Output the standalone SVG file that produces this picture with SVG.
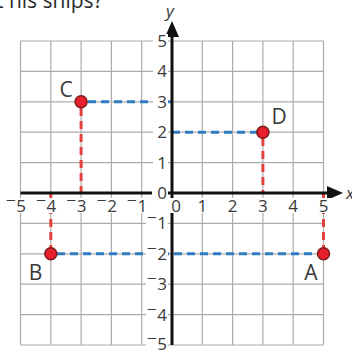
<svg xmlns="http://www.w3.org/2000/svg" width="352" height="353" viewBox="0 0 352 353">
<style>
.grid line{stroke:#ababab;stroke-width:1.2}
.axis{stroke:#111;stroke-width:3}
.bd{stroke:#2f7cc2;stroke-width:3;stroke-dasharray:8 5;fill:none}
.rd{stroke:#e2413f;stroke-width:3;stroke-dasharray:8 5;fill:none}
.tk{font-family:"Open Sans","DejaVu Sans",sans-serif;font-size:17px;fill:#3a3a3a}
.m{font-family:"DejaVu Sans",sans-serif;font-size:21px}
.bg{fill:#fff}
.pt{fill:#e8202e;stroke:#7a1b1b;stroke-width:1.5}
.lb{font-family:"Open Sans","DejaVu Sans",sans-serif;font-size:21px;fill:#3a3a3a}
.hd{font-family:"Open Sans","DejaVu Sans",sans-serif;font-size:21px;fill:#2a2a2a}
</style>
<rect width="352" height="353" fill="#fff"/>
<text class="hd" x="-4" y="8">t his ships?</text>
<g class="grid">
<line x1="20.5" y1="41" x2="20.5" y2="345"/>
<line x1="50.8" y1="41" x2="50.8" y2="345"/>
<line x1="81.1" y1="41" x2="81.1" y2="345"/>
<line x1="111.4" y1="41" x2="111.4" y2="345"/>
<line x1="141.7" y1="41" x2="141.7" y2="345"/>
<line x1="202.3" y1="41" x2="202.3" y2="345"/>
<line x1="232.6" y1="41" x2="232.6" y2="345"/>
<line x1="262.9" y1="41" x2="262.9" y2="345"/>
<line x1="293.2" y1="41" x2="293.2" y2="345"/>
<line x1="323.5" y1="41" x2="323.5" y2="345"/>
<line x1="20.5" y1="41" x2="323.5" y2="41"/>
<line x1="20.5" y1="71.4" x2="323.5" y2="71.4"/>
<line x1="20.5" y1="101.8" x2="323.5" y2="101.8"/>
<line x1="20.5" y1="132.2" x2="323.5" y2="132.2"/>
<line x1="20.5" y1="162.6" x2="323.5" y2="162.6"/>
<line x1="20.5" y1="223.4" x2="323.5" y2="223.4"/>
<line x1="20.5" y1="253.8" x2="323.5" y2="253.8"/>
<line x1="20.5" y1="284.2" x2="323.5" y2="284.2"/>
<line x1="20.5" y1="314.6" x2="323.5" y2="314.6"/>
<line x1="20.5" y1="345" x2="323.5" y2="345"/>
</g>
<g id="connectors">
<line class="bd" x1="88" y1="101.8" x2="172" y2="101.8"/>
<line class="bd" x1="172" y1="132.2" x2="257" y2="132.2"/>
<line class="bd" x1="57" y1="253.8" x2="317" y2="253.8"/>
<line class="rd" x1="81.1" y1="108" x2="81.1" y2="193"/>
<line class="rd" x1="262.9" y1="138" x2="262.9" y2="193"/>
<line class="rd" x1="50.8" y1="193" x2="50.8" y2="248"/>
<line class="rd" x1="323.5" y1="193" x2="323.5" y2="248"/>
</g>
<g id="axes">
<line class="axis" x1="20.5" y1="193" x2="330" y2="193"/>
<polygon points="343,193 327,186 327,200" fill="#111"/>
<line class="axis" x1="172" y1="345" x2="172" y2="34"/>
<polygon points="172,21 165,37 179,37" fill="#111"/>
<text x="346" y="199" font-family="Open Sans, DejaVu Sans, sans-serif" font-style="italic" font-size="17" fill="#3a3a3a">x</text>
<text x="166" y="17" font-family="Open Sans, DejaVu Sans, sans-serif" font-style="italic" font-size="17" fill="#3a3a3a">y</text>
</g>
<g id="y-labels">
<rect class="bg" x="153" y="34" width="15" height="14"/>
<rect class="bg" x="153" y="64.4" width="15" height="14"/>
<rect class="bg" x="153" y="94.8" width="15" height="14"/>
<rect class="bg" x="153" y="125.2" width="15" height="14"/>
<rect class="bg" x="153" y="155.6" width="15" height="14"/>
<rect class="bg" x="152" y="186" width="16" height="14"/>
<rect class="bg" x="146" y="216.4" width="22" height="14"/>
<rect class="bg" x="146" y="246.8" width="22" height="14"/>
<rect class="bg" x="146" y="277.2" width="22" height="14"/>
<rect class="bg" x="146" y="307.6" width="22" height="14"/>
<rect class="bg" x="146" y="338" width="22" height="14"/>
<g class="tk" text-anchor="end">
<text x="167" y="47">5</text>
<text x="167" y="77.4">4</text>
<text x="167" y="107.8">3</text>
<text x="167" y="138.2">2</text>
<text x="167" y="168.6">1</text>
<text x="167" y="199">0</text>
<text x="167" y="229.4"><tspan class="m">⁻</tspan>1</text>
<text x="167" y="259.8"><tspan class="m">⁻</tspan>2</text>
<text x="167" y="290.2"><tspan class="m">⁻</tspan>3</text>
<text x="167" y="320.6"><tspan class="m">⁻</tspan>4</text>
<text x="167" y="349.5"><tspan class="m">⁻</tspan>5</text>
</g>
</g>
<g id="x-labels">
<rect class="bg" x="9" y="198" width="22" height="15"/>
<rect class="bg" x="39" y="198" width="22" height="15"/>
<rect class="bg" x="70" y="198" width="22" height="15"/>
<rect class="bg" x="100" y="198" width="22" height="15"/>
<rect class="bg" x="130" y="198" width="22" height="15"/>
<rect class="bg" x="169" y="198" width="14" height="15"/>
<rect class="bg" x="195" y="198" width="14" height="15"/>
<rect class="bg" x="226" y="198" width="14" height="15"/>
<rect class="bg" x="256" y="198" width="14" height="15"/>
<rect class="bg" x="286" y="198" width="14" height="15"/>
<rect class="bg" x="317" y="198" width="14" height="15"/>
<g class="tk" text-anchor="end">
<text x="26" y="212"><tspan class="m">⁻</tspan>5</text>
<text x="56.3" y="212"><tspan class="m">⁻</tspan>4</text>
<text x="86.6" y="212"><tspan class="m">⁻</tspan>3</text>
<text x="116.9" y="212"><tspan class="m">⁻</tspan>2</text>
<text x="147.2" y="212"><tspan class="m">⁻</tspan>1</text>
</g>
<g class="tk" text-anchor="middle">
<text x="176" y="212">0</text>
<text x="202.3" y="212">1</text>
<text x="232.6" y="212">2</text>
<text x="262.9" y="212">3</text>
<text x="293.2" y="212">4</text>
<text x="323.5" y="212">5</text>
</g>
</g>
<g id="point-C"><circle class="pt" cx="81.1" cy="101.8" r="6"/><text class="lb" x="66" y="97" text-anchor="middle">C</text></g>
<g id="point-D"><circle class="pt" cx="262.9" cy="132.2" r="6"/><text class="lb" x="279" y="124" text-anchor="middle">D</text></g>
<g id="point-B"><circle class="pt" cx="50.8" cy="253.8" r="6"/><text class="lb" x="35.5" y="280" text-anchor="middle">B</text></g>
<g id="point-A"><circle class="pt" cx="323.5" cy="253.8" r="6"/><text class="lb" x="311" y="280" text-anchor="middle">A</text></g>
</svg>
